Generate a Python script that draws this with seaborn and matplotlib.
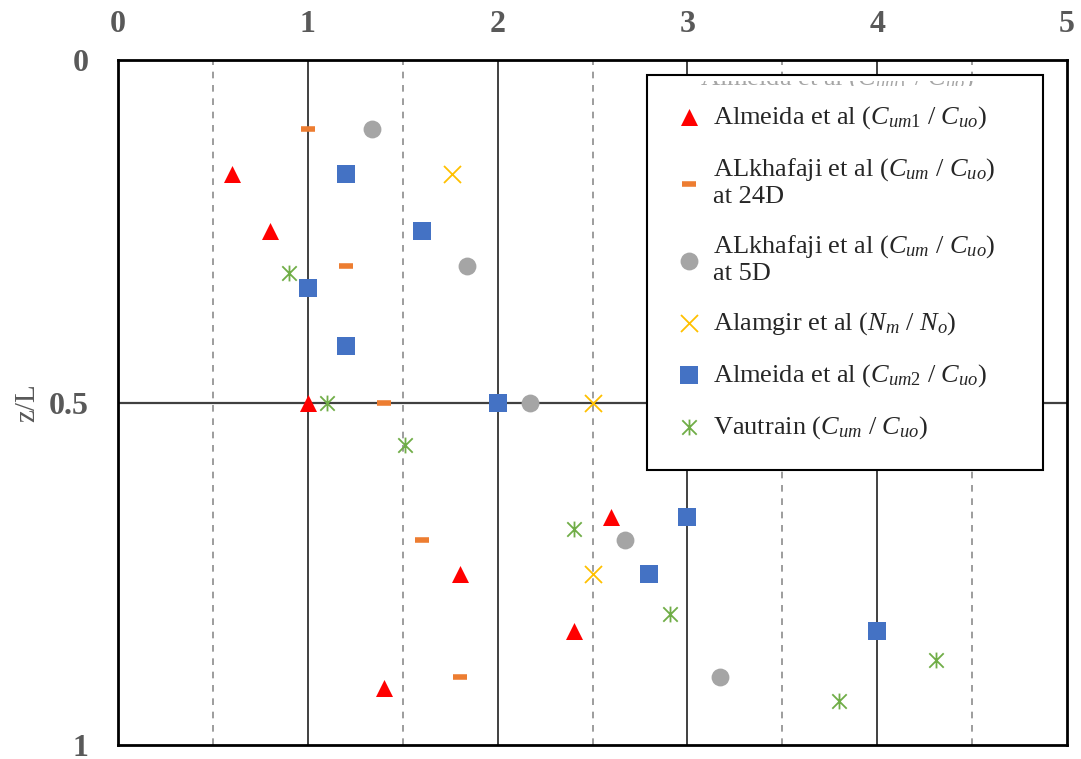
import pandas as pd
import seaborn as sns
import matplotlib.pyplot as plt
from matplotlib.path import Path

# values (x = concentration ratio, z/L)
alm1_x = [0.6, 0.8, 1.0, 2.6, 1.8, 2.4, 1.4]
alm1_z = [0.167, 0.25, 0.5, 0.667, 0.75, 0.833, 0.917]

alk24_x = [1.0, 1.2, 1.4, 1.6, 1.8]
alk24_z = [0.1, 0.3, 0.5, 0.7, 0.9]

alk5_x = [1.34, 1.84, 2.17, 2.67, 3.17]
alk5_z = [0.1, 0.3, 0.5, 0.7, 0.9]

alam_x = [1.76, 2.5, 2.5]
alam_z = [0.167, 0.5, 0.75]

alm2_x = [1.2, 1.6, 1.0, 1.2, 2.0, 3.0, 2.8, 4.0]
alm2_z = [0.167, 0.25, 0.333, 0.417, 0.5, 0.667, 0.75, 0.833]

vau_x = [0.9, 1.1, 1.51, 2.4, 2.91, 4.31, 3.8]
vau_z = [0.311, 0.5, 0.562, 0.685, 0.809, 0.876, 0.936]

x_ticks = [0, 1, 2, 3, 4, 5]
y_ticks = [0, 0.5, 1]
y_ticklabels = ["0", "0.5", "1"]

sns.set_style("white")
plt.rcParams['font.family'] = ['Liberation Serif', 'DejaVu Serif']
plt.rcParams['mathtext.fontset'] = 'custom'
plt.rcParams['mathtext.rm'] = 'Liberation Serif'
plt.rcParams['mathtext.it'] = 'Liberation Serif:italic'

# excel style asterisk: an X with a vertical bar through it
star = Path([(-1, -1), (1, 1), (-1, 1), (1, -1), (0, -1.1), (0, 1.1)],
            [Path.MOVETO, Path.LINETO, Path.MOVETO, Path.LINETO, Path.MOVETO, Path.LINETO])

fig = plt.figure(figsize=(10.81, 7.59), dpi=100)
ax = fig.add_axes([118 / 1081, 1 - 745 / 759, (1067 - 118) / 1081, (745 - 60) / 759])

series = [
    (alm1_x, alm1_z, r"Almeida et al ($C_{\mathit{um1}}$ / $C_{\mathit{uo}}$)",
     dict(marker="^", color="#ff0000", s=150, linewidth=0)),
    (alk24_x, alk24_z, "ALkhafaji et al ($C_{\\mathit{um}}$ / $C_{\\mathit{uo}}$)\nat 24D",
     dict(marker="_", color="#ed7d31", s=110, linewidth=4)),
    (alk5_x, alk5_z, "ALkhafaji et al ($C_{\\mathit{um}}$ / $C_{\\mathit{uo}}$)\nat 5D",
     dict(marker="o", color="#a5a5a5", s=165, linewidth=0)),
    (alam_x, alam_z, r"Alamgir et al ($N_{\mathit{m}}$ / $N_{\mathit{o}}$)",
     dict(marker="x", color="#ffc000", s=150, linewidth=1.3)),
    (alm2_x, alm2_z, r"Almeida et al ($C_{\mathit{um2}}$ / $C_{\mathit{uo}}$)",
     dict(marker="s", color="#4472c4", s=165, linewidth=0)),
    (vau_x, vau_z, r"Vautrain ($C_{\mathit{um}}$ / $C_{\mathit{uo}}$)",
     dict(marker=star, color="#70ad47", edgecolor="#70ad47", s=130, linewidth=1.3)),
]

for xs, zs, lab, kw in series:
    df = pd.DataFrame({"x": xs, "z": zs})
    sns.scatterplot(data=df, x="x", y="z", ax=ax, label=lab, zorder=3, **kw)

ax.set_xlim(0, 5)
ax.set_ylim(1, 0)

# grid: solid at integers, dashed at halves
for v in [1, 2, 3, 4]:
    ax.axvline(v, color="#404040", lw=1.4, zorder=1)
for v in [0.5, 1.5, 2.5, 3.5, 4.5]:
    ax.axvline(v, color="#8c8c8c", lw=1.2, ls=(0, (4, 4)), zorder=1)
ax.axhline(0.5, color="#404040", lw=1.6, zorder=1)

ax.xaxis.tick_top()
ax.set_xticks(x_ticks)
ax.set_yticks(y_ticks)
ax.set_yticklabels(y_ticklabels)
ax.tick_params(length=0, labelsize=23, labelcolor="#595959")
ax.tick_params(axis="x", pad=15)
ax.tick_params(axis="y", pad=21)
for t in ax.get_xticklabels() + ax.get_yticklabels():
    t.set_fontweight("bold")

ax.set_xlabel("")
ax.set_ylabel("z/L", fontsize=21, color="#595959", labelpad=6)

for sp in ax.spines.values():
    sp.set_color("black")
    sp.set_linewidth(2)

leg = ax.legend(loc="upper left",
                bbox_to_anchor=(647 / 1081, 1 - 470 / 759, 396 / 1081, 395 / 759),
                bbox_transform=fig.transFigure, mode="expand", frameon=True, fancybox=False,
                fontsize=19, labelspacing=0.95, handletextpad=0.4,
                borderpad=1.1, borderaxespad=0, handlelength=1.0)
leg.get_frame().set_edgecolor("black")
leg.get_frame().set_linewidth(1.5)
leg.get_frame().set_alpha(1)

# the overlapped legend entry peeking out at the top of the box: only its
# bottom edge shows, so draw it in a thin strip that clips the rest
strip = fig.add_axes([660 / 1081, 1 - 86 / 759, 380 / 1081, 5 / 759], zorder=10)
strip.set_axis_off()
strip.patch.set_visible(False)
strip.text(40 / 380, 1 / 5, r"Almeida et al ($C_{\mathit{um1}}$ / $C_{\mathit{uo}}$)",
           transform=strip.transAxes, fontsize=19, color="#a6a6a6", va="baseline",
           clip_on=True)

plt.savefig("out.png", dpi=100)
